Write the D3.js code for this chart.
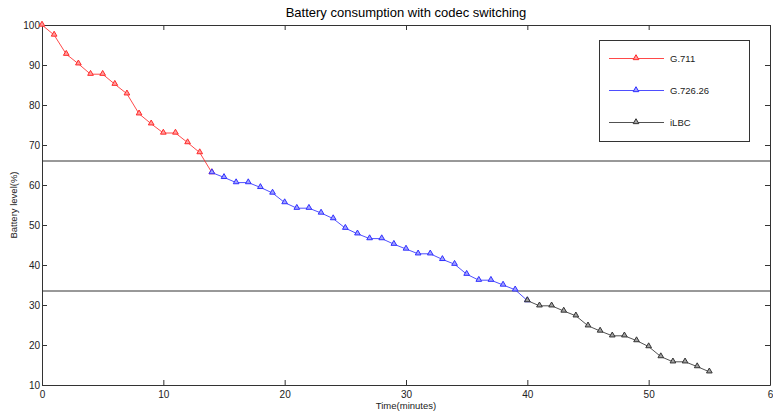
<!DOCTYPE html>
<html>
<head>
<meta charset="utf-8">
<script src="https://cdn.jsdelivr.net/npm/d3@7"></script>
<style>
  html, body { margin: 0; padding: 0; background: #fff; }
  svg { display: block; font-family: "Liberation Sans", Arial, sans-serif; }
</style>
</head>
<body>
<svg id="chart" width="773" height="412"></svg>
<script>
// Battery level (%) sampled each minute, per codec phase
const g711Minutes = [0,1,2,3,4,5,6,7,8,9,10,11,12,13,14];
const g711Level   = [100,97.5,92.7,90.3,87.7,87.7,85.2,82.8,77.8,75.3,73,73,70.6,68.1,63.1];

const g726Minutes = [14,15,16,17,18,19,20,21,22,23,24,25,26,27,28,29,30,31,32,33,34,35,36,37,38,39,40];
const g726Level   = [63.1,61.9,60.6,60.6,59.4,58,55.6,54.2,54.2,53,51.6,49.2,47.8,46.6,46.6,45.2,44,42.8,42.8,41.4,40.2,37.7,36.2,36.2,35,33.8,31.1];

const ilbcMinutes = [40,41,42,43,44,45,46,47,48,49,50,51,52,53,54,55];
const ilbcLevel   = [31.1,29.8,29.8,28.5,27.3,24.8,23.5,22.3,22.3,21.1,19.6,17.1,15.8,15.8,14.6,13.3];

// Switching thresholds
const thresholds = [66, 33.5];

const xTicks = [0,10,20,30,40,50,60];
const yTicks = [10,20,30,40,50,60,70,80,90,100];
const xTickLabels = ["0","10","20","30","40","50","6"];

const seriesNames  = ["G.711", "G.726.26", "iLBC"];
const seriesColors = ["#ff2a2a", "#3030ff", "#333333"];

const svg = d3.select("#chart");
const plotLeft = 42, plotRight = 770, plotTop = 25, plotBottom = 385;

const x = d3.scaleLinear().domain([0, 60]).range([plotLeft, plotRight]);
const y = d3.scaleLinear().domain([10, 100]).range([plotBottom, plotTop]);

const axisColor = "#333";

// Frame and ticks (ticks point inward on all four sides)
const frame = svg.append("g");
const tickLen = 5;
frame.append("g").attr("class", "xb").attr("transform", `translate(0,${plotBottom})`)
  .call(d3.axisBottom(x).tickValues(xTicks).tickSizeInner(-tickLen).tickSizeOuter(0)
    .tickFormat((d, i) => xTickLabels[i]));
frame.append("g").attr("transform", `translate(0,${plotTop})`)
  .call(d3.axisTop(x).tickValues(xTicks).tickSizeInner(-tickLen).tickSizeOuter(0).tickFormat(""));
frame.append("g").attr("class", "yl").attr("transform", `translate(${plotLeft},0)`)
  .call(d3.axisLeft(y).tickValues(yTicks).tickSizeInner(-tickLen).tickSizeOuter(0));
frame.append("g").attr("transform", `translate(${plotRight},0)`)
  .call(d3.axisRight(y).tickValues(yTicks).tickSizeInner(-tickLen).tickSizeOuter(0).tickFormat(""));

frame.selectAll("g").attr("font-family", null);
frame.selectAll(".domain").attr("stroke", axisColor);
frame.selectAll(".tick line").attr("stroke", axisColor);
frame.selectAll(".tick text").attr("fill", "#222").attr("font-size", 10);
frame.selectAll(".xb .tick text").attr("y", 6);
frame.selectAll(".yl .tick text").attr("x", -2);

// Threshold lines
svg.append("g").selectAll("line").data(thresholds).join("line")
  .attr("x1", plotLeft).attr("x2", plotRight)
  .attr("y1", d => y(d)).attr("y2", d => y(d))
  .attr("stroke", axisColor).attr("stroke-width", 1);

// Series
const series = [
  { name: seriesNames[0], color: seriesColors[0], xs: g711Minutes, ys: g711Level },
  { name: seriesNames[1], color: seriesColors[1], xs: g726Minutes, ys: g726Level },
  { name: seriesNames[2], color: seriesColors[2], xs: ilbcMinutes, ys: ilbcLevel }
];

const line = d3.line().x(d => x(d[0])).y(d => y(d[1]));
const tri = d3.symbol().type(d3.symbolTriangle).size(14);
const lightFill = c => d3.interpolateRgb(c, "#fff")(0.55);

series.forEach(s => {
  const pts = s.xs.map((m, i) => [m, s.ys[i]]);
  const g = svg.append("g");
  g.append("path").datum(pts).attr("d", line)
    .attr("fill", "none").attr("stroke", s.color).attr("stroke-width", 1).attr("opacity", 0.85);
  g.selectAll("path.m").data(pts).join("path").attr("class", "m")
    .attr("d", tri)
    .attr("transform", d => `translate(${x(d[0])},${y(d[1]) - 0.5})`)
    .attr("fill", lightFill(s.color))
    .attr("stroke", s.color).attr("stroke-width", 1);
});

// Legend
const lg = svg.append("g");
lg.append("rect").attr("x", 599.5).attr("y", 40.5).attr("width", 150).attr("height", 101)
  .attr("fill", "#fff").attr("stroke", axisColor);
series.forEach((s, i) => {
  const ly = 58.5 + i * 32;
  lg.append("line").attr("x1", 609).attr("x2", 664).attr("y1", ly).attr("y2", ly)
    .attr("stroke", s.color).attr("opacity", 0.85);
  lg.append("path").attr("d", tri).attr("transform", `translate(636,${ly - 0.5})`)
    .attr("fill", lightFill(s.color)).attr("stroke", s.color);
  lg.append("text").attr("x", 670).attr("y", ly + 3.5).attr("font-size", 9.5)
    .attr("fill", "#222").text(s.name);
});

// Titles
svg.append("text").attr("x", (plotLeft + plotRight) / 2).attr("y", 17).attr("text-anchor", "middle")
  .attr("font-size", 13).attr("fill", "#000").text("Battery consumption with codec switching");
svg.append("text").attr("x", (plotLeft + plotRight) / 2).attr("y", 409).attr("text-anchor", "middle")
  .attr("font-size", 9.5).attr("fill", "#222").text("Time(minutes)");
svg.append("text").attr("transform", `translate(17,${(plotTop + plotBottom) / 2}) rotate(-90)`)
  .attr("text-anchor", "middle").attr("font-size", 9.5).attr("fill", "#222").text("Battery level(%)");
</script>
</body>
</html>
